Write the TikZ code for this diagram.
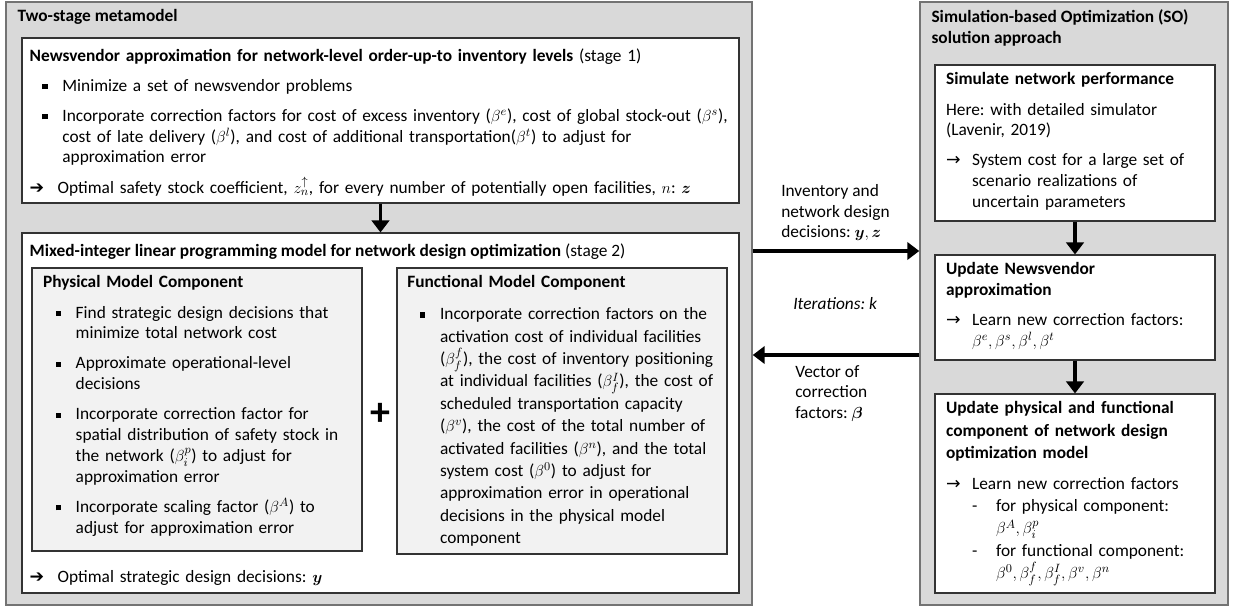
\documentclass[tikz,border=0pt]{standalone}
\usepackage{amsmath}
\usepackage{bm}
\usepackage{fontspec}
\setmainfont{Carlito}
\newfontfamily\symfont{DejaVu Sans}
\usetikzlibrary{arrows.meta,positioning,fit}
\definecolor{panelgray}{gray}{0.85}
\definecolor{compgray}{gray}{0.95}
\newcommand\sqbullet{\rule[0.25ex]{0.3em}{0.3em}}
\newcommand\bitem[1]{\par\vspace{7pt}\hangindent=24.5pt\hangafter=1\noindent\hbox to 24.5pt{\hspace{9.5pt}\sqbullet\hfil}#1\par}
\newcommand\aitem[1]{\par\vspace{7pt}\hangindent=21pt\hangafter=1\noindent\hbox to 21pt{{\symfont\char"2794}\hfil}#1\par}
\newcommand\ritem[1]{\par\vspace{7pt}\hangindent=19.5pt\hangafter=1\noindent\hbox to 19.5pt{{\symfont\char"2192}\hfil}#1\par}
\newcommand\ditem[1]{\par\hangindent=37.5pt\hangafter=1\noindent\hbox to 37.5pt{\hspace{19.5pt}-\hfil}#1\par}

\begin{document}
\begin{tikzpicture}[x=0.75pt, y=-0.75pt,
    panel/.style={draw=black!55, line width=1.1pt, fill=panelgray, inner sep=0pt},
    stagebox/.style={draw=black!80, line width=0.8pt, fill=white, inner sep=0pt},
    compbox/.style={stagebox, fill=compgray},
    txt/.style={inner sep=0pt, align=left, font=\fontsize{13}{15.6}\selectfont\frenchspacing},
    flow/.style={line width=2.4pt, -{Triangle[length=9pt, width=13pt]}}]
  \useasboundingbox (0,0) rectangle (1234,610);

  % the two grey panels
  \node[panel, fit={(6,2) (752,605)}] (meta) {};
  \node[panel, fit={(920,2) (1228,605)}] (so) {};

  % boxes of the metamodel
  \node[stagebox, fit={(22,38) (739,203)}] (s1) {};
  \node[stagebox, fit={(22,233) (739,593)}] (s2) {};
  \node[compbox, fit={(32,268) (362,551)}] (phys) {};
  \node[compbox, fit={(397,268) (727,554)}] (func) {};

  % boxes of the SO approach
  \node[stagebox, fit={(935,65) (1215,221)}] (sim) {};
  \node[stagebox, fit={(935,255) (1215,360)}] (nvupd) {};
  \node[stagebox, fit={(935,394) (1215,593)}] (phupd) {};

  \node[txt, font=\fontsize{13}{15.6}\selectfont\bfseries, below right=6pt and 9pt of meta.north west] (metatitle) {Two-stage metamodel};

  \node[txt, text width=535pt, below right=8pt and 6pt of s1.north west] (s1text) {%
    \textbf{Newsvendor approximation for network-level order-up-to inventory levels} (stage 1)
    \bitem{Minimize a set of newsvendor problems}
    \bitem{Incorporate correction factors for cost of excess inventory ($\beta^e$), cost of global stock-out ($\beta^s$),\newline
      cost of late delivery ($\beta^l$), and cost of additional transportation($\beta^t$) to adjust for\newline
      approximation error}
    \aitem{Optimal safety stock coefficient, $z_n^{\uparrow}$, for every number of potentially open facilities, $n$: $\bm{z}$}};

  \node[txt, below right=8pt and 6pt of s2.north west] (s2title) {\textbf{Mixed-integer linear programming model for network design optimization} (stage 2)};

  \node[txt, text width=236pt, below right=6pt and 8.5pt of phys.north west] (phystext) {%
    \textbf{Physical Model Component}
    \bitem{Find strategic design decisions that\newline minimize total network cost}
    \bitem{Approximate operational-level\newline decisions}
    \bitem{Incorporate correction factor for\newline spatial distribution of safety stock in\newline
      the network ($\beta_i^p$) to adjust for\newline approximation error}
    \bitem{Incorporate scaling factor ($\beta^A$) to\newline adjust for approximation error}};

  \node[txt, font=\fontsize{13}{16.8}\selectfont\frenchspacing, text width=236pt, below right=6pt and 8pt of func.north west] (functext) {%
    \textbf{Functional Model Component}
    \bitem{Incorporate correction factors on the\newline activation cost of individual facilities\newline
      ($\beta_f^f$), the cost of inventory positioning\newline at individual facilities ($\beta_f^I$), the cost of\newline
      scheduled transportation capacity\newline ($\beta^v$), the cost of the total number of\newline
      activated facilities ($\beta^n$), and the total\newline system cost ($\beta^0$) to adjust for\newline
      approximation error in operational\newline decisions in the physical model\newline component}};

  \node[txt, font=\fontsize{30}{30}\selectfont\bfseries] (plus) at (380,414) {+};

  \node[txt, text width=300pt, above right=6pt and 6pt of s2.south west] (s2out) {%
    \noindent\hbox to 21pt{{\symfont\char"2794}\hfil}Optimal strategic design decisions: $\bm{y}$};

  % SO approach texts
  \node[txt, font=\fontsize{13}{15.6}\selectfont\bfseries, below right=6pt and 9pt of so.north west] (sotitle) {Simulation-based Optimization (SO)\\solution approach};

  \node[txt, text width=200pt, below right=6pt and 8.5pt of sim.north west] (simtext) {%
    \textbf{Simulate network performance}
    \par\vspace{7pt}\noindent Here: with detailed simulator\newline (Lavenir, 2019)
    \ritem{System cost for a large set of\newline scenario realizations of\newline uncertain parameters}};

  \node[txt, text width=200pt, below right=6pt and 8.5pt of nvupd.north west] (nvtext) {%
    \textbf{Update Newsvendor\newline approximation}
    \ritem{Learn new correction factors:\newline $\beta^e, \beta^s, \beta^l, \beta^t$}};

  \node[txt, font=\fontsize{13}{16.6}\selectfont\frenchspacing, text width=200pt, below right=6pt and 8.5pt of phupd.north west] (phtext) {%
    \textbf{Update physical and functional\newline component of network design\newline optimization model}
    \ritem{Learn new correction factors}
    \ditem{for physical component:\newline $\beta^A, \beta_i^p$}
    \ditem{for functional component:\newline $\beta^0, \beta_f^f, \beta_f^I, \beta^v, \beta^n$}};

  % labels between the panels
  \node[txt, anchor=north west] (fwdlabel) at (781,184) {Inventory and\\network design\\decisions: $\bm{y}, \bm{z}$};
  \node[txt, anchor=north west] (iterlabel) at (793,297) {\textit{Iterations: k}};
  \node[txt, anchor=north west] (backlabel) at (795,365) {Vector of\\correction\\factors: $\bm{\beta}$};

  % connectors
  \coordinate (fwd) at (0,251);
  \coordinate (back) at (0,355);
  \draw[flow] (s1.south) -- (s2.north);
  \draw[flow] (meta.east |- fwd) -- (so.west |- fwd);
  \draw[flow] (so.west |- back) -- (meta.east |- back);
  \draw[flow] (sim.south) -- (nvupd.north);
  \draw[flow] (nvupd.south) -- (phupd.north);
\end{tikzpicture}
\end{document}
